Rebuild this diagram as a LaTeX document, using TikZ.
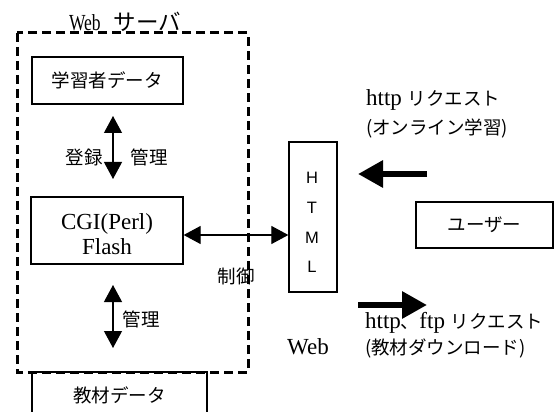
\documentclass[tikz,border=0pt]{standalone}
\usepackage{fontspec}
\setmainfont{Liberation Serif}
\newfontfamily\jpfont{Noto Sans CJK JP}
\newfontfamily\sansfont{Liberation Sans}
\newfontfamily\condserif[FakeStretch=0.76]{Liberation Serif}
\usetikzlibrary{arrows.meta}
\newcommand{\jtxt}[1]{{\jpfont\fontsize{18.5}{25}\selectfont #1}}
\newcommand{\jtitle}[1]{{\jpfont\fontsize{22.5}{25}\selectfont #1}}
\begin{document}
\begin{tikzpicture}[x=1pt,y=-1pt,
  box/.style={draw,line width=1.3pt,inner sep=0pt,align=center},
  lat/.style={font=\fontsize{23}{25}\selectfont},
  jpt/.style={font=\jpfont\fontsize{18.5}{25}\selectfont,inner sep=0pt},
  thinarr/.style={line width=1.2pt,{Triangle[width=18pt,length=17pt]}-{Triangle[width=18pt,length=17pt]}},
  thickarr/.style={line width=6pt,-{Triangle[width=26pt,length=25pt]}},
  server/.style={draw,line width=3pt,dash pattern=on 9pt off 5pt}]
\useasboundingbox (0,0) rectangle (558,412);
% boxes
\node[box,jpt,minimum width=175pt,minimum height=47pt] (kyozai) at (119.5,395.5) {教材データ};
\draw[server] (17,33) rectangle (248,372);
\node[font=\condserif\fontsize{23}{25}\selectfont,inner sep=0pt,anchor=base] (title) at (125,31) {Web\hspace{13pt}\jtitle{サーバ}};
\node[box,jpt,minimum width=151pt,minimum height=47pt] (gakushu) at (107.5,80.5) {学習者データ};
\node[box,minimum width=152pt,minimum height=67pt] (cgi) at (107,230.5) {};
\node[align=center,lat,inner sep=0pt] (cgitxt) at (107,234) {CGI(Perl)\\Flash};
\node[box,minimum width=48pt,minimum height=150pt] (html) at (313,217) {};
\node[align=center,font=\sansfont\fontsize{16.5}{29.7}\selectfont,inner sep=0pt] (htmltxt) at (312,222.5) {H\\T\\M\\L};
\node[box,jpt,minimum width=137pt,minimum height=46pt] (user) at (484.5,225) {ユーザー};
% arrows
\coordinate (a1t) at (113,116);
\coordinate (a1b) at (113,179);
\draw[thinarr] (a1t) -- (a1b);
\node[jpt] (toroku) at (84,157) {登録};
\node[jpt] (kanri1) at (149,157) {管理};
\coordinate (ay) at (0,235);
\draw[thinarr] (cgi.east |- ay) -- (html.west |- ay);
\node[jpt] (seigyo) at (236,276) {制御};
\coordinate (a2t) at (113,285);
\coordinate (a2b) at (113,348);
\draw[thinarr] (a2t) -- (a2b);
\node[jpt] (kanri2) at (141,319) {管理};
% requests
\node[lat,anchor=west,inner sep=0pt] (req1) at (366,100) {http \jtxt{リクエスト}};
\node[jpt,anchor=west] (req1b) at (366,128) {(オンライン学習)};
\coordinate (l1s) at (427,174);
\coordinate (l1e) at (358,174);
\draw[thickarr] (l1s) -- (l1e);
\coordinate (r1s) at (358,305);
\coordinate (r1e) at (427,305);
\draw[thickarr] (r1s) -- (r1e);
\node[lat,anchor=west,inner sep=0pt] (req2) at (365,323) {http\jtxt{、}ftp \jtxt{リクエスト}};
\node[jpt,anchor=west] (req2b) at (365,348) {(教材ダウンロード)};
\node[lat,inner sep=0pt] (web) at (308,347) {Web};
\end{tikzpicture}
\end{document}
